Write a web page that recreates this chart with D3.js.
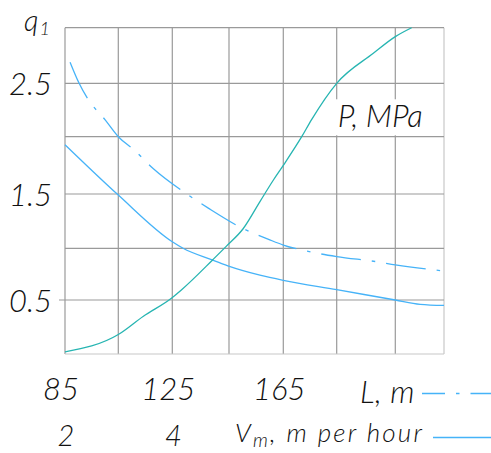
<!DOCTYPE html>
<html><head><meta charset="utf-8">
<script src="https://cdn.jsdelivr.net/npm/d3@7/dist/d3.min.js"></script>
<style>
html,body{margin:0;padding:0;background:#fff;}
svg{display:block;}
text{font-family:Lato,"Open Sans",sans-serif;font-weight:300;font-style:italic;fill:#111;}
</style></head><body>
<svg id="chart" width="491" height="453"></svg>
<script>
// ---- data ----
const lTicks = [85,105,125,145,165,185,205,225];      // grid columns, L (m)
const vTicks = [2,3,4,5,6,7,8,9];                       // same columns, Vm (m per hour)
const qTicks = [0,0.5,1,1.5,2,2.5,3];                   // grid rows, q1
const lLabels = [85,125,165];
const vLabels = [2,4];
const qLabels = [0.5,1.5,2.5];

// dash-dot curve: q1 vs L
const curveL_x = [86.9,90.3,93.4,100,105,110.6,118,129.5,137.7,150.3,159.8,165,174.3,185,198.7,205,225];
const curveL_q = [2.69,2.50,2.36,2.16,2.0,1.89,1.72,1.51,1.37,1.18,1.08,1.03,0.97,0.92,0.87,0.84,0.78];
// solid curve: q1 vs Vm
const curveV_x = [2,3,4,4.19,4.69,4.98,5.57,6,7,8,8.51,9];
const curveV_q = [1.93,1.49,1.06,1.0,0.89,0.83,0.74,0.69,0.60,0.50,0.46,0.45];
// teal curve: P, MPa vs L
const curveP_x = [85,105,114.3,124.8,128.3,139.3,144.1,150.2,156.4,161.3,165,171.9,175.6,185,197.5,205,211.7];
const curveP_q = [0.02,0.18,0.35,0.52,0.60,0.89,1.02,1.18,1.43,1.62,1.75,2.0,2.16,2.5,2.77,2.92,3.0];

// ---- drawing ----
const svg = d3.select("#chart");
// hand-drawn grid: slightly irregular column/row spacing
const colPx = [65,118.3,172.3,229,283.3,336.7,395.3,444];
const rowPx = [354,300,248.3,194,136.7,83.3,27.7];
const xL = d3.scaleLinear().domain(lTicks).range(colPx);
const xV = d3.scaleLinear().domain(vTicks).range(colPx);
const y = d3.scaleLinear().domain(qTicks).range(rowPx);

const blue = "#46b3f8", teal = "#27b5b2";
const g = svg.append("g");

// grid
g.selectAll("line.v").data(lTicks).join("line")
  .attr("x1", d=>xL(d)).attr("x2", d=>xL(d))
  .attr("y1", y(3)).attr("y2", y(0))
  .attr("stroke", (d,i)=> i===lTicks.length-1 ? "#c8c8c8" : "#9a9a9a")
  .attr("stroke-width", 1.2);
g.selectAll("line.h").data(qTicks).join("line")
  .attr("x1", d=> d===0.5 ? xL(85)-6 : xL(85)).attr("x2", xL(225))
  .attr("y1", d=>y(d)).attr("y2", d=>y(d))
  .attr("stroke", d=> d===0 ? "#c8c8c8" : "#9a9a9a")
  .attr("stroke-width", 1.2);

const pLab = svg.append("g");

// curves
const line = (xs, sx) => d3.line().x((d,i)=>sx(xs[i])).y(d=>y(d)).curve(d3.curveMonotoneX);
svg.append("path").attr("d", line(curveV_x, xV)(curveV_q))
  .attr("fill","none").attr("stroke",blue).attr("stroke-width",1.3);
svg.append("path").attr("d", line(curveL_x, xL)(curveL_q))
  .attr("fill","none").attr("stroke",blue).attr("stroke-width",1.3)
  .attr("stroke-dasharray","40 11 3.5 11");
svg.append("path").attr("d", line(curveP_x, xL)(curveP_q))
  .attr("fill","none").attr("stroke",teal).attr("stroke-width",1.3);

// P label with white background
pLab.raise();
pLab.append("rect").attr("x", xL(185)-2).attr("y", y(2.5)+16)
  .attr("width", 92).attr("height", 36).attr("fill","#fff");
pLab.append("text").attr("x", xL(185)+1).attr("y", y(2)-10)
  .attr("font-size",31).text("P, MPa");

// y labels
svg.selectAll("text.yl").data(qLabels).join("text")
  .attr("x", 52).attr("y", d=>y(d)+12).attr("text-anchor","end")
  .attr("font-size",31).text(d=>d);
// q1 title
const qt = svg.append("text").attr("x",24).attr("y",31).attr("font-size",29);
qt.append("tspan").text("q");
qt.append("tspan").attr("font-size",18).attr("dy",4).attr("dx",1).text("1");

// x labels row 1 (L)
svg.selectAll("text.xl").data(lLabels).join("text")
  .attr("x", d=>xL(d)-4).attr("y", 400).attr("text-anchor","middle")
  .attr("font-size",31).text(d=>d);
// x labels row 2 (Vm)
svg.selectAll("text.xv").data(vLabels).join("text")
  .attr("x", d=>xV(d)+1).attr("y", 446).attr("text-anchor","middle")
  .attr("font-size",29).text(d=>d);

// legend
svg.append("text").attr("x",360).attr("y",403).attr("font-size",31)
  .attr("letter-spacing",0.5).text("L, m");
svg.append("line").attr("x1",422).attr("x2",491).attr("y1",393.5).attr("y2",393.5)
  .attr("stroke",blue).attr("stroke-width",1.3).attr("stroke-dasharray","23 11 3.5 11");
const vt = svg.append("text").attr("x",235).attr("y",442).attr("font-size",26).attr("letter-spacing",2.2);
vt.append("tspan").text("V");
vt.append("tspan").attr("font-size",19).attr("dy",5).text("m");
vt.append("tspan").attr("dy",-5).text(", m per hour");
svg.append("line").attr("x1",433).attr("x2",491).attr("y1",437.5).attr("y2",437.5)
  .attr("stroke",blue).attr("stroke-width",1.3);
</script>
</body></html>
